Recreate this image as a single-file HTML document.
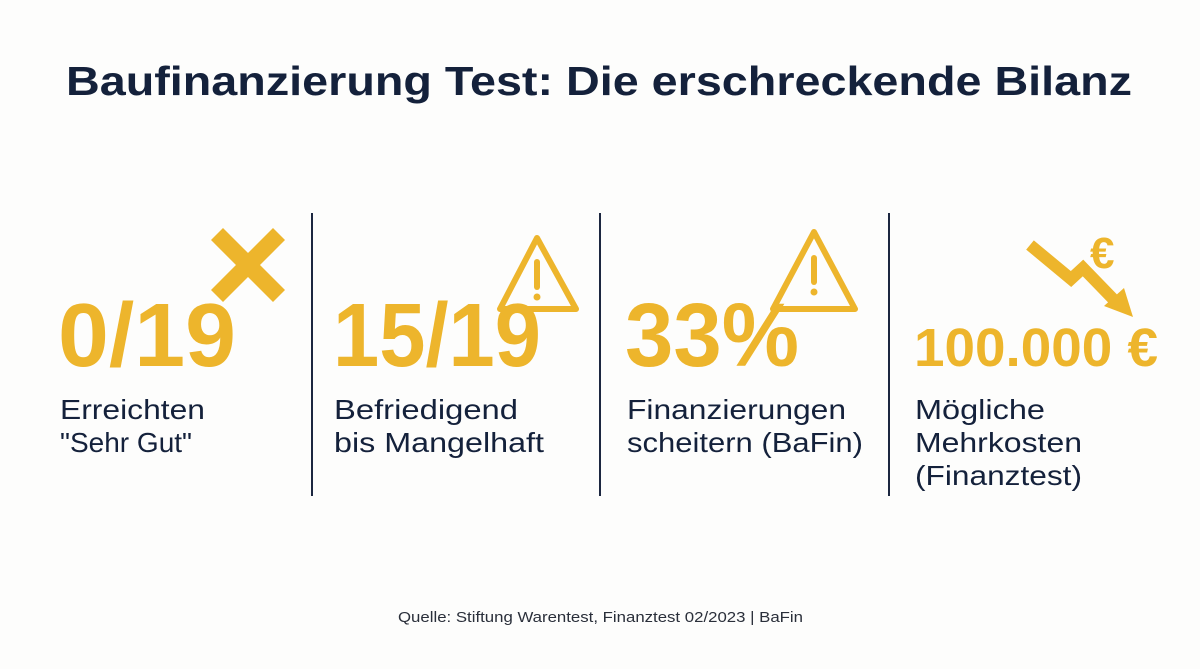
<!DOCTYPE html>
<html><head><meta charset="utf-8"><style>
html,body{margin:0;padding:0;background:#fdfdfc;}
svg{display:block;}
text{font-family:"Liberation Sans","DejaVu Sans",sans-serif;}
</style></head><body>
<svg width="1200" height="669" viewBox="0 0 1200 669">
<rect width="1200" height="669" fill="#fdfdfc"/>
<text x="66" y="95" font-size="41" font-weight="bold" fill="#14213b" textLength="1066" lengthAdjust="spacingAndGlyphs">Baufinanzierung Test: Die erschreckende Bilanz</text>

<g stroke="#1c2740" stroke-width="2">
<line x1="312" y1="213" x2="312" y2="496"/>
<line x1="600" y1="213" x2="600" y2="496"/>
<line x1="889" y1="213" x2="889" y2="496"/>
</g>

<!-- Stat 1 -->
<g>
<g stroke="#edb52c" stroke-width="17">
<line x1="217" y1="234" x2="279" y2="296"/><line x1="279" y1="234" x2="217" y2="296"/>
</g>
<text x="58" y="366" font-size="90" font-weight="bold" fill="#edb52c" textLength="178" lengthAdjust="spacingAndGlyphs">0/19</text>
<text x="60" y="419" font-size="28" fill="#14213b" textLength="145" lengthAdjust="spacingAndGlyphs">Erreichten</text>
<text x="60" y="452" font-size="28" fill="#14213b" textLength="132" lengthAdjust="spacingAndGlyphs">"Sehr Gut"</text>
</g>

<!-- Stat 2 -->
<g>
<g>
<path d="M537 238 L576 309 L500 309 Z" fill="none" stroke="#edb52c" stroke-width="6" stroke-linejoin="round"/>
<line x1="537" y1="262" x2="537" y2="287" stroke="#edb52c" stroke-width="6" stroke-linecap="round"/>
<circle cx="537" cy="297" r="3.5" fill="#edb52c"/>
</g>
<text x="333" y="366" font-size="90" font-weight="bold" fill="#edb52c" textLength="208" lengthAdjust="spacingAndGlyphs">15/19</text>
<text x="334" y="419" font-size="28" fill="#14213b" textLength="184" lengthAdjust="spacingAndGlyphs">Befriedigend</text>
<text x="334" y="452" font-size="28" fill="#14213b" textLength="210" lengthAdjust="spacingAndGlyphs">bis Mangelhaft</text>
</g>

<!-- Stat 3 -->
<g>
<g>
<path d="M814 232 L855 309 L773 309 Z" fill="none" stroke="#edb52c" stroke-width="6" stroke-linejoin="round"/>
<line x1="814" y1="258" x2="814" y2="282" stroke="#edb52c" stroke-width="6" stroke-linecap="round"/>
<circle cx="814" cy="292" r="3.5" fill="#edb52c"/>
</g>
<text x="625" y="366" font-size="90" font-weight="bold" fill="#edb52c" textLength="174" lengthAdjust="spacingAndGlyphs">33%</text>
<text x="627" y="419" font-size="28" fill="#14213b" textLength="219" lengthAdjust="spacingAndGlyphs">Finanzierungen</text>
<text x="627" y="452" font-size="28" fill="#14213b" textLength="236" lengthAdjust="spacingAndGlyphs">scheitern (BaFin)</text>
</g>

<!-- Stat 4 -->
<g>
<g>
<polyline points="1030,245 1071,279 1083,268 1116,302" fill="none" stroke="#edb52c" stroke-width="12" stroke-linejoin="miter"/>
<path d="M1104 306 L1124 288 L1133 317 Z" fill="#edb52c"/>
<text x="1090" y="268" font-size="44" font-weight="bold" fill="#edb52c">€</text>
</g>
<text x="914" y="366" font-size="54" font-weight="bold" fill="#edb52c" textLength="244" lengthAdjust="spacingAndGlyphs">100.000 €</text>
<text x="915" y="419" font-size="28" fill="#14213b" textLength="130" lengthAdjust="spacingAndGlyphs">Mögliche</text>
<text x="915" y="452" font-size="28" fill="#14213b" textLength="167" lengthAdjust="spacingAndGlyphs">Mehrkosten</text>
<text x="915" y="485" font-size="28" fill="#14213b" textLength="167" lengthAdjust="spacingAndGlyphs">(Finanztest)</text>
</g>

<text x="398" y="622" font-size="15" fill="#2a2f3a" textLength="405" lengthAdjust="spacingAndGlyphs">Quelle: Stiftung Warentest, Finanztest 02/2023 | BaFin</text>
</svg>
</body></html>
